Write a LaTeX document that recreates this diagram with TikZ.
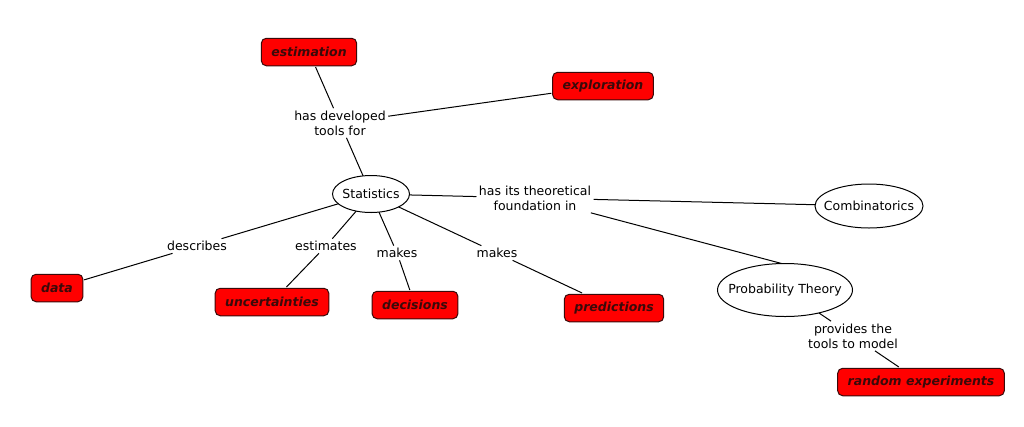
\documentclass[tikz,border=0pt]{standalone}
\usepackage{fontspec}
\setmainfont{DejaVu Sans}
\usetikzlibrary{shapes.geometric}
\definecolor{leafred}{HTML}{FF0000}
\definecolor{leafline}{HTML}{3A0A0A}
\begin{document}
\begin{tikzpicture}[x=0.8pt,y=-0.8pt,inner sep=0pt,outer sep=0pt,line width=0.8pt,
concept/.style={draw,ellipse,inner sep=0pt},
leaf/.style={draw=leafline,fill=leafred,rounded corners=4pt,inner xsep=8pt,minimum height=22pt,outer sep=1pt,text=leafline,font=\bfseries\itshape},
link/.style={align=center,inner sep=2pt}]
\useasboundingbox (0,0) rectangle (1024,426);
% concepts
\draw (371,194) node[concept,minimum width=61.6pt,minimum height=29.6pt,label=center:Statistics] (stat) {};
\draw (869,206) node[concept,minimum width=86.4pt,minimum height=35.2pt,label=center:Combinatorics] (comb) {};
\draw (785,290) node[concept,minimum width=108pt,minimum height=42.4pt,label=center:Probability Theory] (prob) {};
% leaves
\draw (309,52) node[leaf] (estim) {estimation};
\draw (603,86) node[leaf] (explor) {exploration};
\draw (57,288) node[leaf] (data) {data};
\draw (272,302) node[leaf] (uncert) {uncertainties};
\draw (415,305) node[leaf] (decis) {decisions};
\draw (614,308) node[leaf] (pred) {predictions};
\draw (921,382) node[leaf] (random) {random experiments};
% linking phrases
\draw (340,123) node[link] (tools) {has developed\\tools for};
\draw (535,198) node[link] (found) {has its theoretical\\foundation in};
\draw (197,246) node[link] (descr) {describes};
\draw (326,246) node[link] (estim2) {estimates};
\draw (397,253) node[link] (makes1) {makes};
\draw (497,253) node[link] (makes2) {makes};
\draw (853,336) node[link] (provid) {provides the\\tools to model};
% connectors
\draw (stat) -- (tools);
\draw (tools) -- (estim);
\draw (tools) -- (explor);
\draw (stat) -- (found);
\draw (found) -- (comb);
\draw (found) -- (prob.97);
\draw (stat) -- (descr);
\draw (descr) -- (data);
\draw (stat) -- (estim2);
\draw (estim2) -- (uncert);
\draw (stat) -- (makes1);
\draw (makes1) -- (decis);
\draw (stat) -- (makes2);
\draw (makes2) -- (pred);
\draw (prob) -- (provid);
\draw (provid) -- (random);
\end{tikzpicture}
\end{document}
